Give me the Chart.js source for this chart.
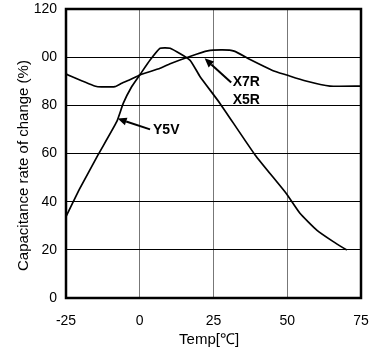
<!DOCTYPE html>
<html><head><meta charset="utf-8">
<script src="https://cdn.jsdelivr.net/npm/chart.js@4"></script>
<style>html,body{margin:0;padding:0;background:#fff}#wrap{width:371px;height:352px}</style>
</head><body><div id="wrap"><canvas id="c"></canvas></div>
<script>
const x7rTemp = [-25, -14.6, -8.4, -6.1, -3, 0, 6.9, 10.3, 17, 23, 28, 32, 37.4, 45, 49.8, 56, 64.5, 75];
const x7rVal  = [93, 87.8, 87.8, 89.2, 90.8, 92.6, 95.4, 97.3, 100.3, 102.6, 103, 102.5, 99, 94.5, 92.6, 90.2, 88, 88];
const y5vTemp = [-25, -20.3, -14.1, -7.8, -5.6, -2.7, 0, 3.5, 6.9, 10.3, 17, 20.4, 27.2, 39.1, 49.6, 54.3, 60, 65.6, 70.2];
const y5vVal  = [33.8, 45.5, 59.5, 73.2, 80.8, 87.8, 92.6, 98.8, 103.7, 103.7, 98.8, 92, 80.8, 59.4, 43.5, 35.2, 28.2, 23.4, 19.9];
const yTickValues = [0, 20, 40, 60, 80, 100, 120];
const yTickLabels = ['0', '20', '40', '60', '80', '00', '120'];
const xTickValues = [-25, 0, 25, 50, 75];
const yTitle = 'Capacitance rate of change (%)';
const xTitle = 'Temp[℃]';
const labelNotes = [
  {text: 'X7R', x: 31.5, y: 89.5, ax: 31, ay: 89.5, tx: 22, ty: 99.5},
  {text: 'X5R', x: 31.5, y: 82},
  {text: 'Y5V', x: 4.5, y: 69.8, ax: 3.5, ay: 70, tx: -7.5, ty: 74.5}
];

const FONT = '"Liberation Sans", Arial, sans-serif';
const frame = {
  id: 'frame',
  afterDraw(chart) {
    const {ctx, chartArea: a, scales} = chart;
    ctx.save();
    ctx.strokeStyle = '#000';
    ctx.lineWidth = 2.5;
    ctx.strokeRect(a.left, a.top, a.right - a.left, a.bottom - a.top);
    ctx.fillStyle = '#000';
    ctx.font = '15px ' + FONT;
    ctx.textAlign = 'center';
    ctx.textBaseline = 'middle';
    ctx.fillText(xTitle, scales.x.getPixelForValue(23.5), a.bottom + 42);
    ctx.save();
    ctx.translate(24, scales.y.getPixelForValue(55));
    ctx.rotate(-Math.PI / 2);
    ctx.fillText(yTitle, 0, 0);
    ctx.restore();
    ctx.font = 'bold 14px ' + FONT;
    ctx.textAlign = 'left';
    labelNotes.forEach(n => {
      const px = scales.x.getPixelForValue(n.x), py = scales.y.getPixelForValue(n.y);
      ctx.fillText(n.text, px, py);
      if (n.ax !== undefined) {
        const x0 = scales.x.getPixelForValue(n.ax), y0 = scales.y.getPixelForValue(n.ay);
        const x1 = scales.x.getPixelForValue(n.tx), y1 = scales.y.getPixelForValue(n.ty);
        const ang = Math.atan2(y1 - y0, x1 - x0);
        const hl = 9;
        const bx = x1 - hl * Math.cos(ang), by = y1 - hl * Math.sin(ang);
        ctx.lineWidth = 2;
        ctx.beginPath(); ctx.moveTo(x0, y0); ctx.lineTo(bx, by); ctx.stroke();
        ctx.beginPath();
        ctx.moveTo(x1, y1);
        ctx.lineTo(bx + 4 * Math.sin(ang), by - 4 * Math.cos(ang));
        ctx.lineTo(bx - 4 * Math.sin(ang), by + 4 * Math.cos(ang));
        ctx.closePath(); ctx.fill();
      }
    });
    ctx.restore();
  }
};

const font = {family: FONT, size: 14};
new Chart(document.getElementById('c'), {
  type: 'line',
  data: {
    datasets: [
      {label: 'X7R/X5R', data: x7rTemp.map((t, i) => ({x: t, y: x7rVal[i]})), borderColor: '#000', borderWidth: 1.7, pointRadius: 0, tension: 0.15, fill: false},
      {label: 'Y5V', data: y5vTemp.map((t, i) => ({x: t, y: y5vVal[i]})), borderColor: '#000', borderWidth: 1.7, pointRadius: 0, tension: 0.15, fill: false}
    ]
  },
  options: {
    responsive: true, maintainAspectRatio: false, animation: false,
    layout: {padding: {top: 9, right: 10, left: 0, bottom: 0}},
    plugins: {legend: {display: false}, tooltip: {enabled: false}},
    scales: {
      x: {
        type: 'linear', min: -25, max: 75,
        afterBuildTicks: s => { s.ticks = xTickValues.map(v => ({value: v})); },
        afterFit: s => { s.height = 54; s.paddingLeft = 0; s.paddingRight = 0; },
        grid: {color: '#777', lineWidth: 1, drawTicks: false},
        border: {display: false},
        ticks: {color: '#000', font, padding: 15, maxRotation: 0},
        title: {display: false}
      },
      y: {
        min: 0, max: 120,
        afterBuildTicks: s => { s.ticks = yTickValues.map(v => ({value: v})); },
        afterFit: s => { s.width = 66; s.paddingTop = 0; s.paddingBottom = 0; },
        grid: {color: '#000', lineWidth: 1, drawTicks: false},
        border: {display: false},
        ticks: {color: '#000', font, padding: 9, callback: (v) => yTickLabels[yTickValues.indexOf(v)]},
        title: {display: false}
      }
    }
  },
  plugins: [frame]
});
</script></body></html>
